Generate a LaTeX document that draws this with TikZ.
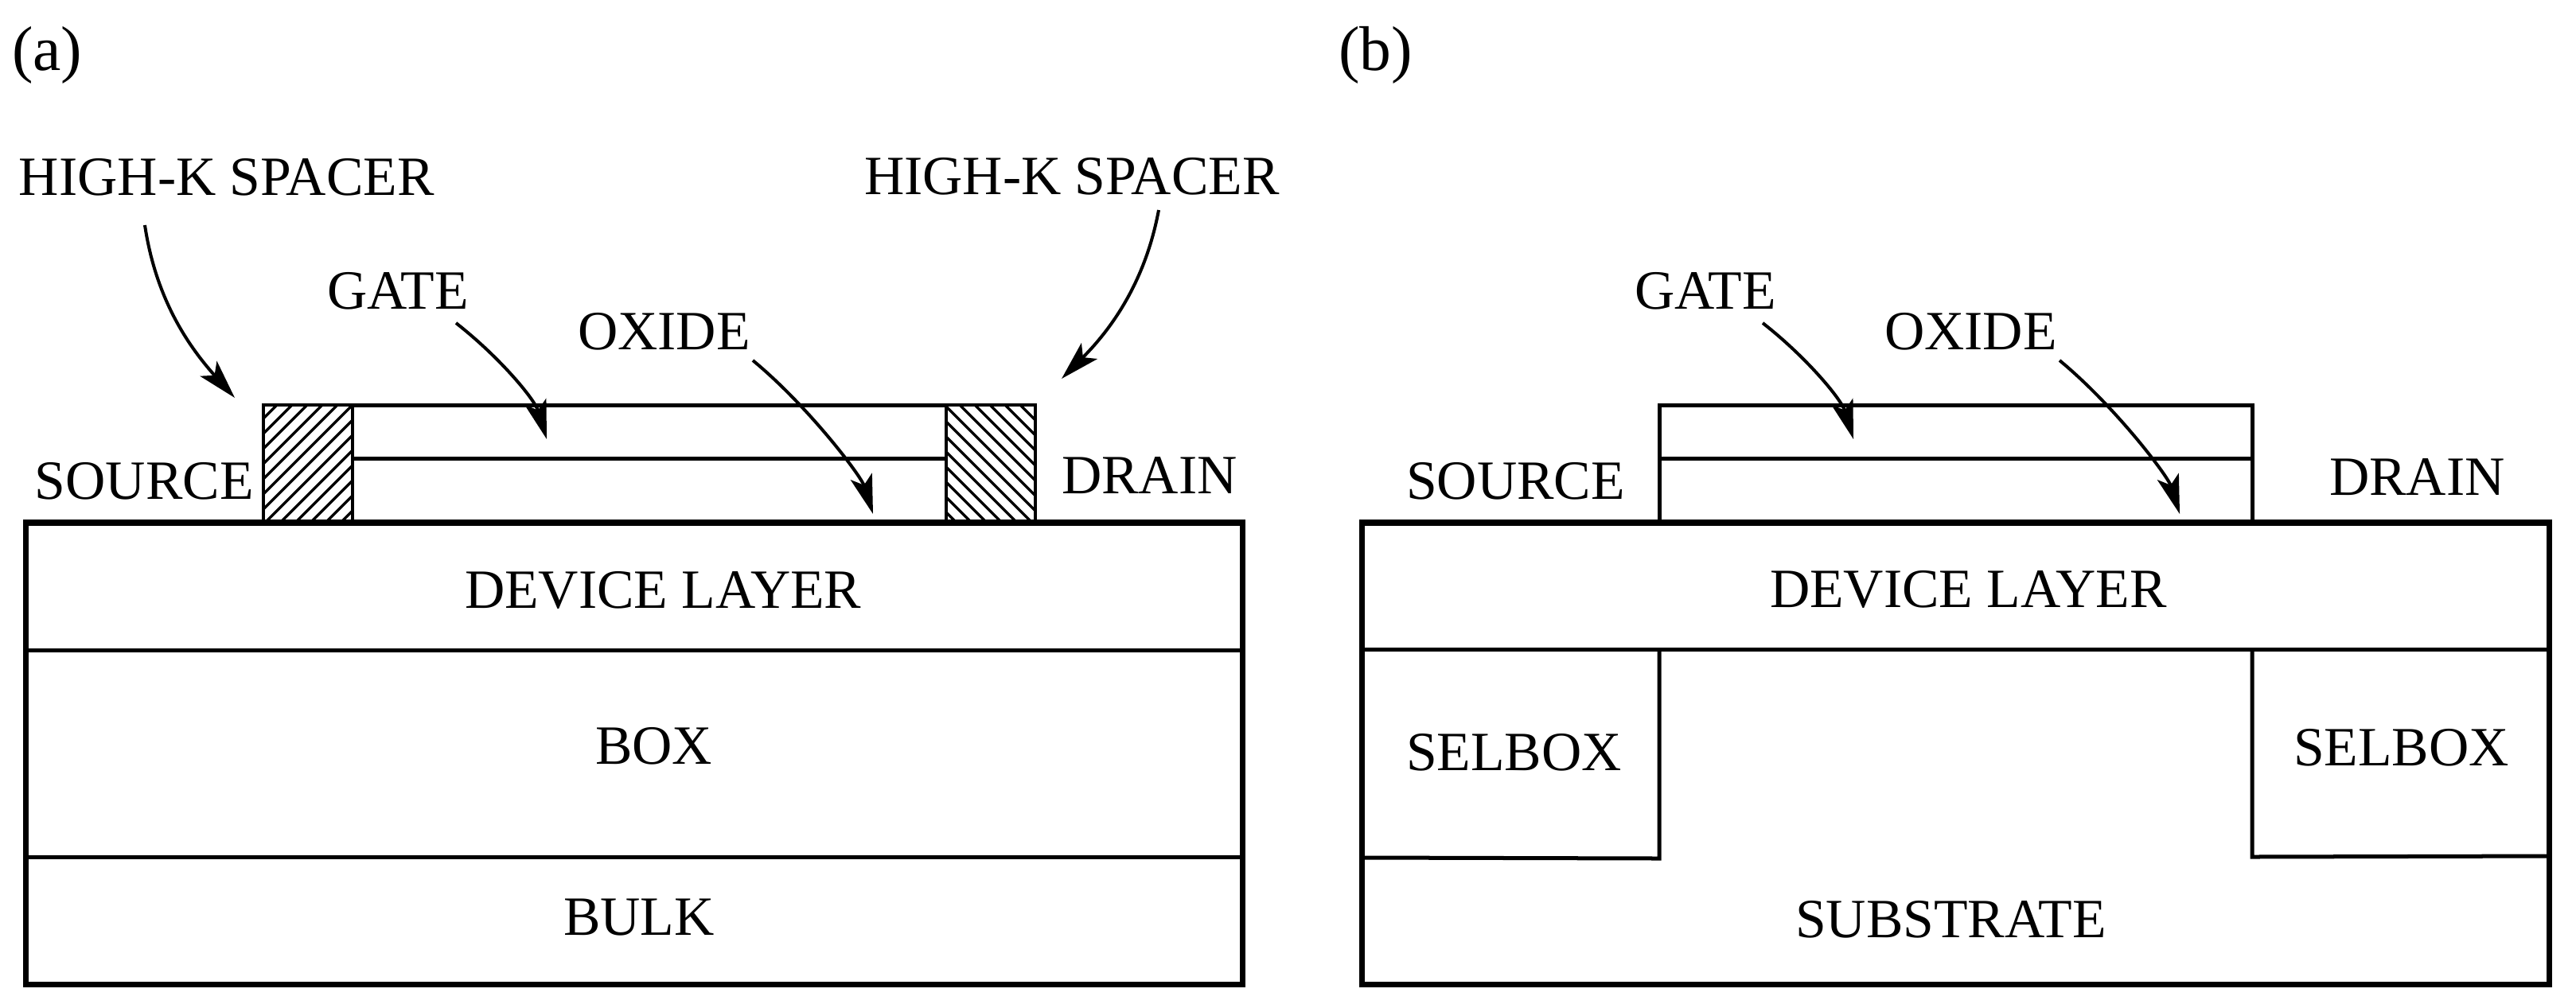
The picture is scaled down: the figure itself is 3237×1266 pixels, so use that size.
\documentclass[tikz,border=0pt]{standalone}
\usepackage{fontspec}
\setmainfont{Liberation Serif}
\usetikzlibrary{arrows.meta}
\tikzset{
  x=0.01cm,y=-0.01cm,
  lbl/.style={anchor=base west,inner sep=0pt,outer sep=0pt,font=\fontsize{19.8pt}{22pt}\selectfont},
  tag/.style={anchor=base west,inner sep=0pt,outer sep=0pt,font=\fontsize{22.6pt}{24pt}\selectfont},
  outer/.style={line width=7*0.2845pt},
  topline/.style={line width=8*0.2845pt},
  thin line/.style={line width=5*0.2845pt},
  spacer/.style={line width=4.2*0.2845pt},
  hatch/.style={line width=3.4*0.2845pt},
  pointer/.style={line width=4*0.2845pt,-{Stealth[length=14pt,width=8pt,inset=3.2pt]}},
}
\begin{document}
\begin{tikzpicture}
\useasboundingbox (0,0) rectangle (3237,1266);
\fill[white] (0,0) rectangle (3237,1266);

% ---------- panel (a) hatching ----------
\begin{scope}
  \clip (331,509) rectangle (443,657);
  \foreach \k in {-14,...,14}{
    \draw[hatch] (331,{876+19*\k-331}) -- (443,{876+19*\k-443});
  }
\end{scope}
\begin{scope}
  \clip (1189,509) rectangle (1301,657);
  \foreach \k in {-14,...,14}{
    \draw[hatch] (1189,{1189-716-19*\k}) -- (1301,{1301-716-19*\k});
  }
\end{scope}

% ---------- panel (a) stack ----------
\draw[spacer] (331,509) rectangle (443,657);
\draw[spacer] (1189,509) rectangle (1301,657);
\draw[thin line] (443,509) -- (1189,509);
\draw[thin line] (443,576) -- (1189,576);
\draw[outer] (32.5,657) rectangle (1561,1237.5);
\draw[topline] (29,657) -- (1565,657);
\draw[thin line] (32,817) -- (1561,817);
\draw[thin line] (32,1077.5) -- (1561,1077.5);

% ---------- panel (b) stack ----------
\draw[thin line] (2085,657) -- (2085,509) -- (2830,509) -- (2830,657);
\draw[thin line] (2085,576) -- (2830,576);
\draw[outer] (1711.5,657) rectangle (3203,1237.5);
\draw[topline] (1708,657) -- (3206.5,657);
\draw[thin line] (1712,816.5) -- (3203,816.5);
\draw[thin line] (1712,1078) -- (2085,1079) -- (2085,817);
\draw[thin line] (3203,1076) -- (2830,1077) -- (2830,817);

% ---------- labels ----------
\node[tag] (taga) at (15,88) {(a)};
\node[tag] (tagb) at (1682,88) {(b)};

\node[lbl] (hkl) at (24,245) {HIGH-K SPACER};
\node[lbl] (hkr) at (1086,244) {HIGH-K SPACER};
\node[lbl] (gatea) at (411,388) {GATE};
\node[lbl] (oxa) at (726,439) {OXIDE};
\node[lbl] (srca) at (44,627) {SOURCE};
\node[lbl] (dra) at (1334,620) {DRAIN};
\node[lbl] (deva) at (584,764) {DEVICE LAYER};
\node[lbl] (boxa) at (748,960) {BOX};
\node[lbl] (bulk) at (708,1175) {BULK};

\node[lbl] (gateb) at (2054,388) {GATE};
\node[lbl] (oxb) at (2368,439) {OXIDE};
\node[lbl] (srcb) at (1767,627) {SOURCE};
\node[lbl] (drb) at (2927,622) {DRAIN};
\node[lbl] (devb) at (2224,763) {DEVICE LAYER};
\node[lbl] (selL) at (1767,968) {SELBOX};
\node[lbl] (selR) at (2882,962) {SELBOX};
\node[lbl] (subs) at (2256,1178) {SUBSTRATE};

% ---------- pointers ----------
\coordinate (hkl-s) at (182,283);
\coordinate (hkl-t) at (295,500);
\coordinate (hkr-s) at (1456,264);
\coordinate (hkr-t) at (1334,476);
\coordinate (ga-s) at (573,406);
\coordinate (ga-t) at (687,552);
\coordinate (oa-s) at (946,453);
\coordinate (oa-t) at (1097,646);
\coordinate (gb-s) at (2215,406);
\coordinate (gb-t) at (2329,552);
\coordinate (ob-s) at (2588,453);
\coordinate (ob-t) at (2739,646);

\draw[pointer] (hkl-s) .. controls (195,370) and (232,430) .. (hkl-t);
\draw[pointer] (hkr-s) .. controls (1440,350) and (1400,410) .. (hkr-t);
\draw[pointer] (ga-s) .. controls (628,449) and (672,502) .. (ga-t);
\draw[pointer] (oa-s) .. controls (1015,510) and (1082,598) .. (oa-t);
\draw[pointer] (gb-s) .. controls (2270,449) and (2314,502) .. (gb-t);
\draw[pointer] (ob-s) .. controls (2657,510) and (2724,598) .. (ob-t);
\end{tikzpicture}
\end{document}
